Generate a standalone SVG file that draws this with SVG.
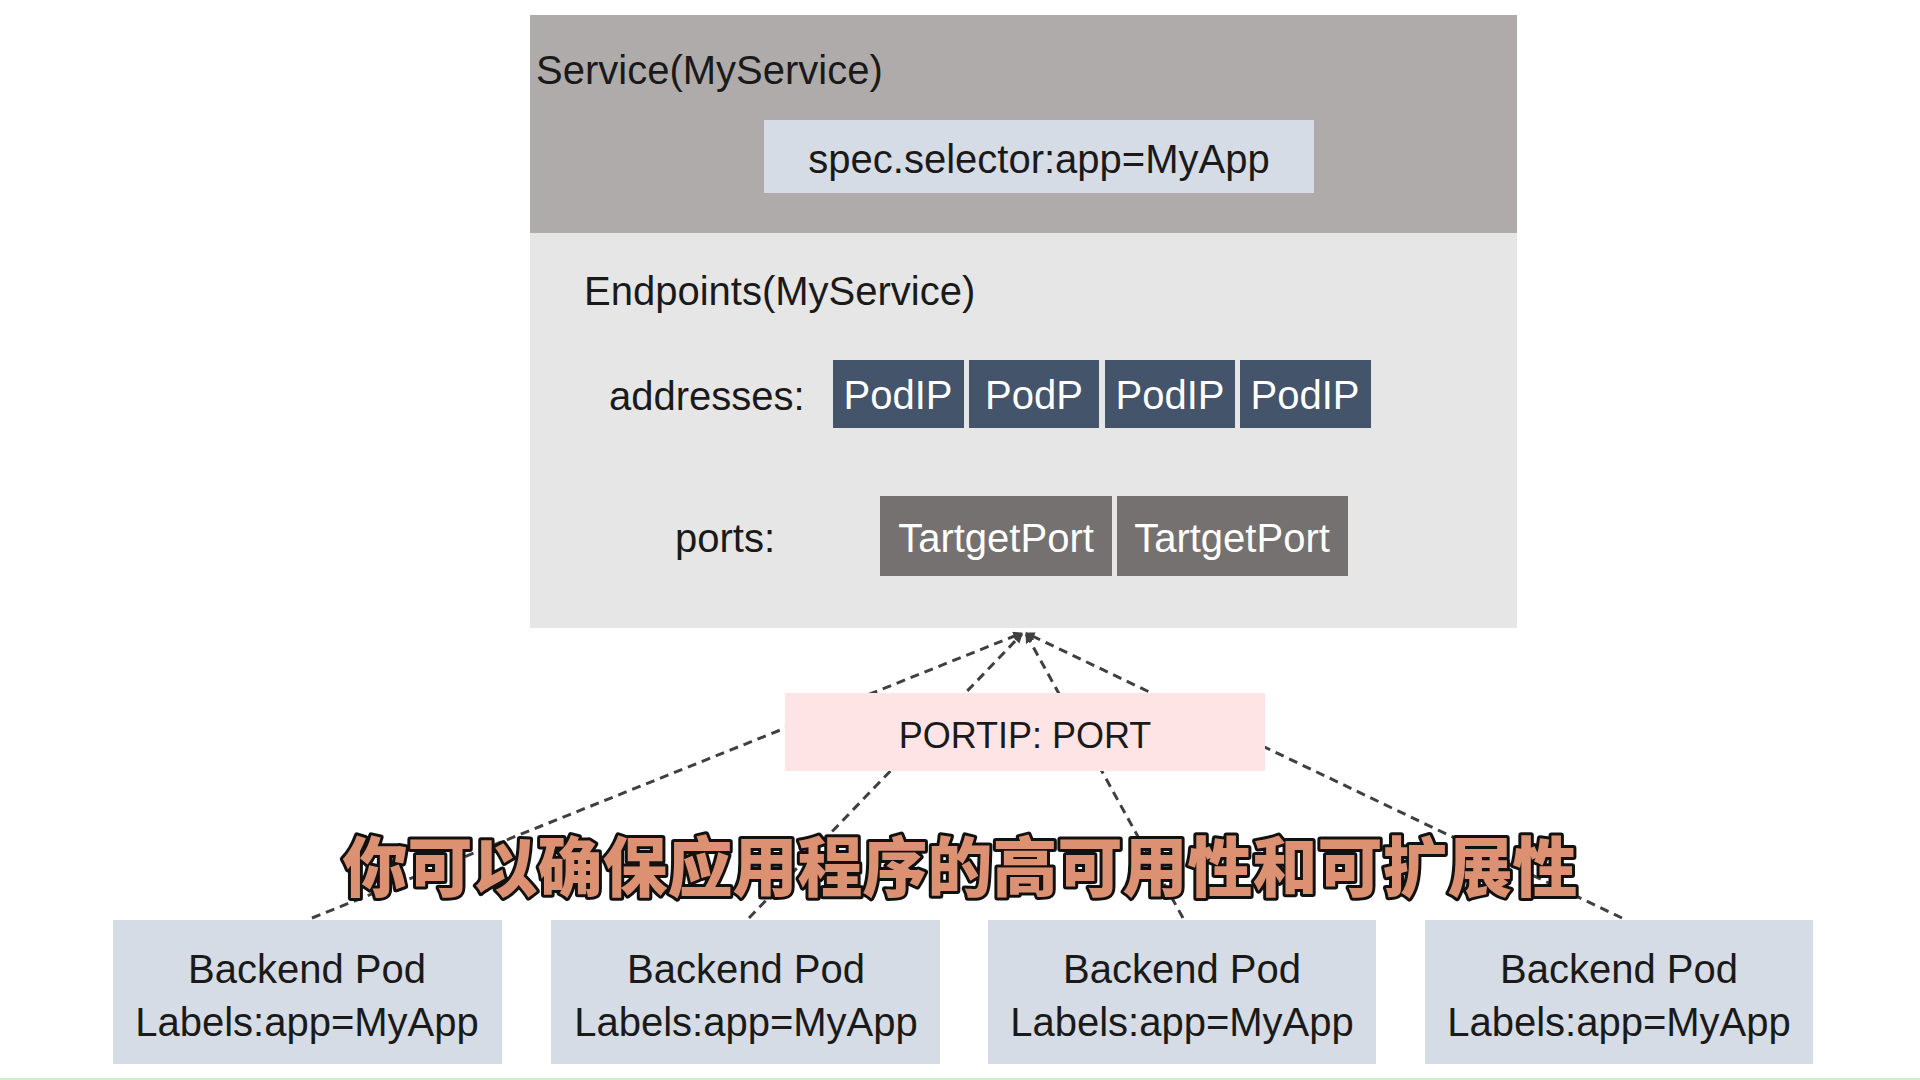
<svg xmlns="http://www.w3.org/2000/svg" width="1920" height="1080" viewBox="0 0 1920 1080">
<defs>
<style>
.t{font-family:"Liberation Sans",Arial,sans-serif;font-size:40px;fill:#1a1a1a}
.w{fill:#ffffff}
.c{text-anchor:middle}
.conn{stroke:#404040;stroke-width:3;stroke-dasharray:9 6;fill:none}
.sub{font-family:"Noto Sans CJK SC",sans-serif;font-weight:900;font-size:65px;fill:#dc9272;stroke:#111;stroke-width:6;paint-order:stroke;stroke-linejoin:round;text-anchor:middle}
</style>
<marker id="ah" viewBox="0 0 10 10" refX="9" refY="5" markerWidth="3.2" markerHeight="3.2" orient="auto">
<path d="M0,0 L10,5 L0,10 z" fill="#404040"/>
</marker>
</defs>
<rect width="1920" height="1080" fill="#ffffff"/>

<g id="service">
<rect x="530" y="15" width="987" height="218" fill="#afabab"/>
<text class="t" x="536" y="84">Service(MyService)</text>
</g>
<g id="selector">
<rect x="764" y="120" width="550" height="73" fill="#d6dce5"/>
<text class="t c" x="1039" y="173">spec.selector:app=MyApp</text>
</g>

<g id="endpoints">
<rect x="530" y="233" width="987" height="395" fill="#e7e6e6"/>
<text class="t" x="584" y="305">Endpoints(MyService)</text>
<text class="t" x="609" y="410">addresses:</text>
<text class="t" x="675" y="552">ports:</text>
</g>

<g id="podip1"><rect x="833" y="360" width="131" height="68" fill="#44546a"/><text class="t w c" x="898" y="409">PodIP</text></g>
<g id="podip2"><rect x="969" y="360" width="130" height="68" fill="#44546a"/><text class="t w c" x="1034" y="409">PodP</text></g>
<g id="podip3"><rect x="1105" y="360" width="130" height="68" fill="#44546a"/><text class="t w c" x="1170" y="409">PodIP</text></g>
<g id="podip4"><rect x="1240" y="360" width="131" height="68" fill="#44546a"/><text class="t w c" x="1305" y="409">PodIP</text></g>

<g id="port1"><rect x="880" y="496" width="232" height="80" fill="#767171"/><text class="t w c" x="996" y="552">TartgetPort</text></g>
<g id="port2"><rect x="1117" y="496" width="231" height="80" fill="#767171"/><text class="t w c" x="1232" y="552">TartgetPort</text></g>

<g id="connectors">
<line class="conn" x1="312" y1="918" x2="1022" y2="633" marker-end="url(#ah)"/>
<line class="conn" x1="749" y1="918" x2="1022" y2="634" marker-end="url(#ah)"/>
<line class="conn" x1="1183" y1="918" x2="1026" y2="634" marker-end="url(#ah)"/>
<line class="conn" x1="1622" y1="918" x2="1026" y2="633" marker-end="url(#ah)"/>
</g>

<g id="portip">
<rect x="785" y="693" width="480" height="78" fill="#ffe4e6"/>
<text class="t c" x="1025" y="748" style="font-size:36px">PORTIP: PORT</text>
</g>

<g id="pod1"><rect x="113" y="920" width="389" height="144" fill="#d6dce5"/><text class="t c" x="307" y="983">Backend Pod</text><text class="t c" x="307" y="1036">Labels:app=MyApp</text></g>
<g id="pod2"><rect x="551" y="920" width="389" height="144" fill="#d6dce5"/><text class="t c" x="746" y="983">Backend Pod</text><text class="t c" x="746" y="1036">Labels:app=MyApp</text></g>
<g id="pod3"><rect x="988" y="920" width="388" height="144" fill="#d6dce5"/><text class="t c" x="1182" y="983">Backend Pod</text><text class="t c" x="1182" y="1036">Labels:app=MyApp</text></g>
<g id="pod4"><rect x="1425" y="920" width="388" height="144" fill="#d6dce5"/><text class="t c" x="1619" y="983">Backend Pod</text><text class="t c" x="1619" y="1036">Labels:app=MyApp</text></g>

<text class="sub" x="960" y="891">你可以确保应用程序的高可用性和可扩展性</text>
<rect x="0" y="1078" width="1920" height="2" fill="#c8f5c8"/>
</svg>
